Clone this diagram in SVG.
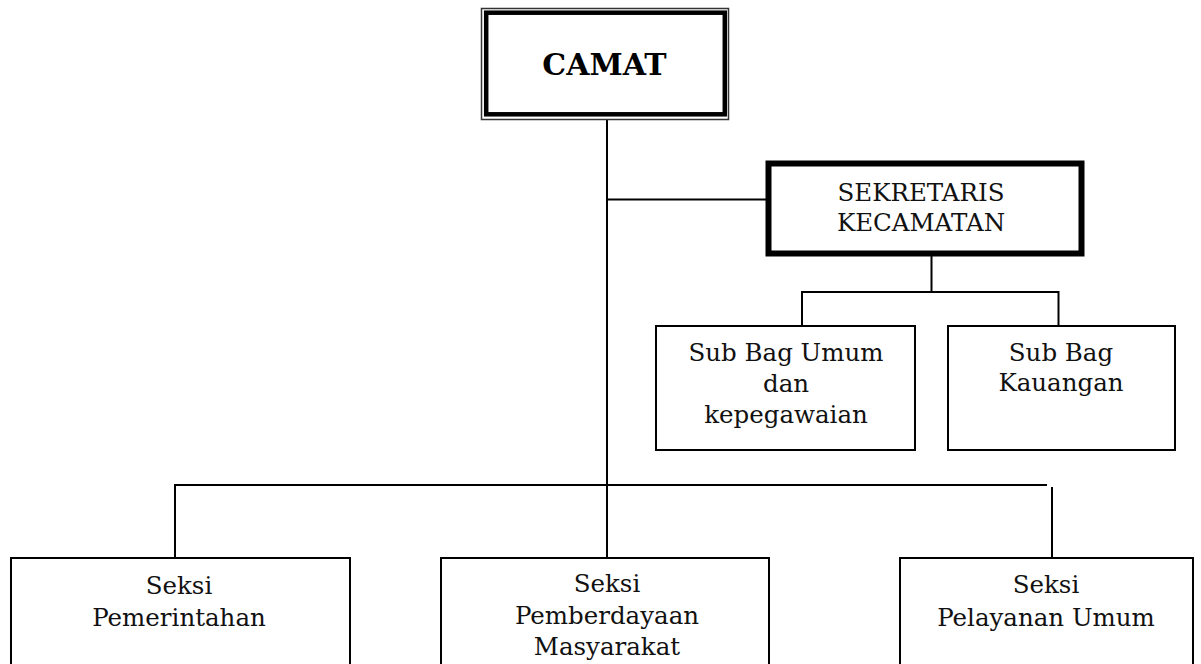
<svg xmlns="http://www.w3.org/2000/svg" width="1201" height="664" viewBox="0 0 1201 664">
<style>
.box{fill:#fff;stroke:#000;stroke-width:2}
.t{font-family:"DejaVu Serif","Liberation Serif",serif;font-size:24.5px;fill:#111;text-anchor:middle}
.tb{font-family:"DejaVu Serif","Liberation Serif",serif;font-size:30px;font-weight:bold;fill:#000;text-anchor:middle}
.c{stroke:#000;stroke-width:2;fill:none}
</style>
<rect width="1201" height="664" fill="#fff"/>
<g id="connectors">
<line class="c" x1="607" y1="119" x2="607" y2="558"/>
<line class="c" x1="607" y1="199.5" x2="766" y2="199.5"/>
<line class="c" x1="931.5" y1="256" x2="931.5" y2="292"/>
<line class="c" x1="801" y1="292" x2="1059" y2="292"/>
<line class="c" x1="802" y1="291" x2="802" y2="326"/>
<line class="c" x1="1058.5" y1="291" x2="1058.5" y2="326"/>
<line class="c" x1="174" y1="485" x2="1047" y2="485"/>
<line class="c" x1="175" y1="484" x2="175" y2="558"/>
<line class="c" x1="1052" y1="487" x2="1052" y2="558"/>
</g>
<g id="camat">
<rect x="481.5" y="8.5" width="247" height="111" fill="#fff" stroke="#333" stroke-width="1.5"/>
<rect x="486.2" y="12.7" width="238.6" height="101.6" fill="#fff" stroke="#000" stroke-width="4.5"/>
<text class="tb" x="604.5" y="75">CAMAT</text>
</g>
<g id="sekretaris">
<rect x="768.5" y="163.5" width="313" height="90" fill="#fff" stroke="#000" stroke-width="6"/>
<text class="t" x="921" y="201">SEKRETARIS</text>
<text class="t" x="921" y="231">KECAMATAN</text>
</g>
<g id="subbag-umum">
<rect class="box" x="656" y="326" width="259" height="124"/>
<text class="t" x="786" y="361">Sub Bag Umum</text>
<text class="t" x="786" y="392">dan</text>
<text class="t" x="786" y="423">kepegawaian</text>
</g>
<g id="subbag-keuangan">
<rect class="box" x="948" y="326" width="227" height="124"/>
<text class="t" x="1061" y="361">Sub Bag</text>
<text class="t" x="1061" y="391">Kauangan</text>
</g>
<g id="seksi-pemerintahan">
<rect class="box" x="11" y="558" width="339" height="120"/>
<text class="t" x="179" y="594">Seksi</text>
<text class="t" x="179" y="626">Pemerintahan</text>
</g>
<g id="seksi-pemberdayaan">
<rect class="box" x="441" y="558" width="328" height="120"/>
<text class="t" x="607" y="592">Seksi</text>
<text class="t" x="607" y="624">Pemberdayaan</text>
<text class="t" x="607" y="655">Masyarakat</text>
</g>
<g id="seksi-pelayanan">
<rect class="box" x="900" y="558" width="293" height="120"/>
<text class="t" x="1046" y="593">Seksi</text>
<text class="t" x="1046" y="626">Pelayanan Umum</text>
</g>
</svg>
